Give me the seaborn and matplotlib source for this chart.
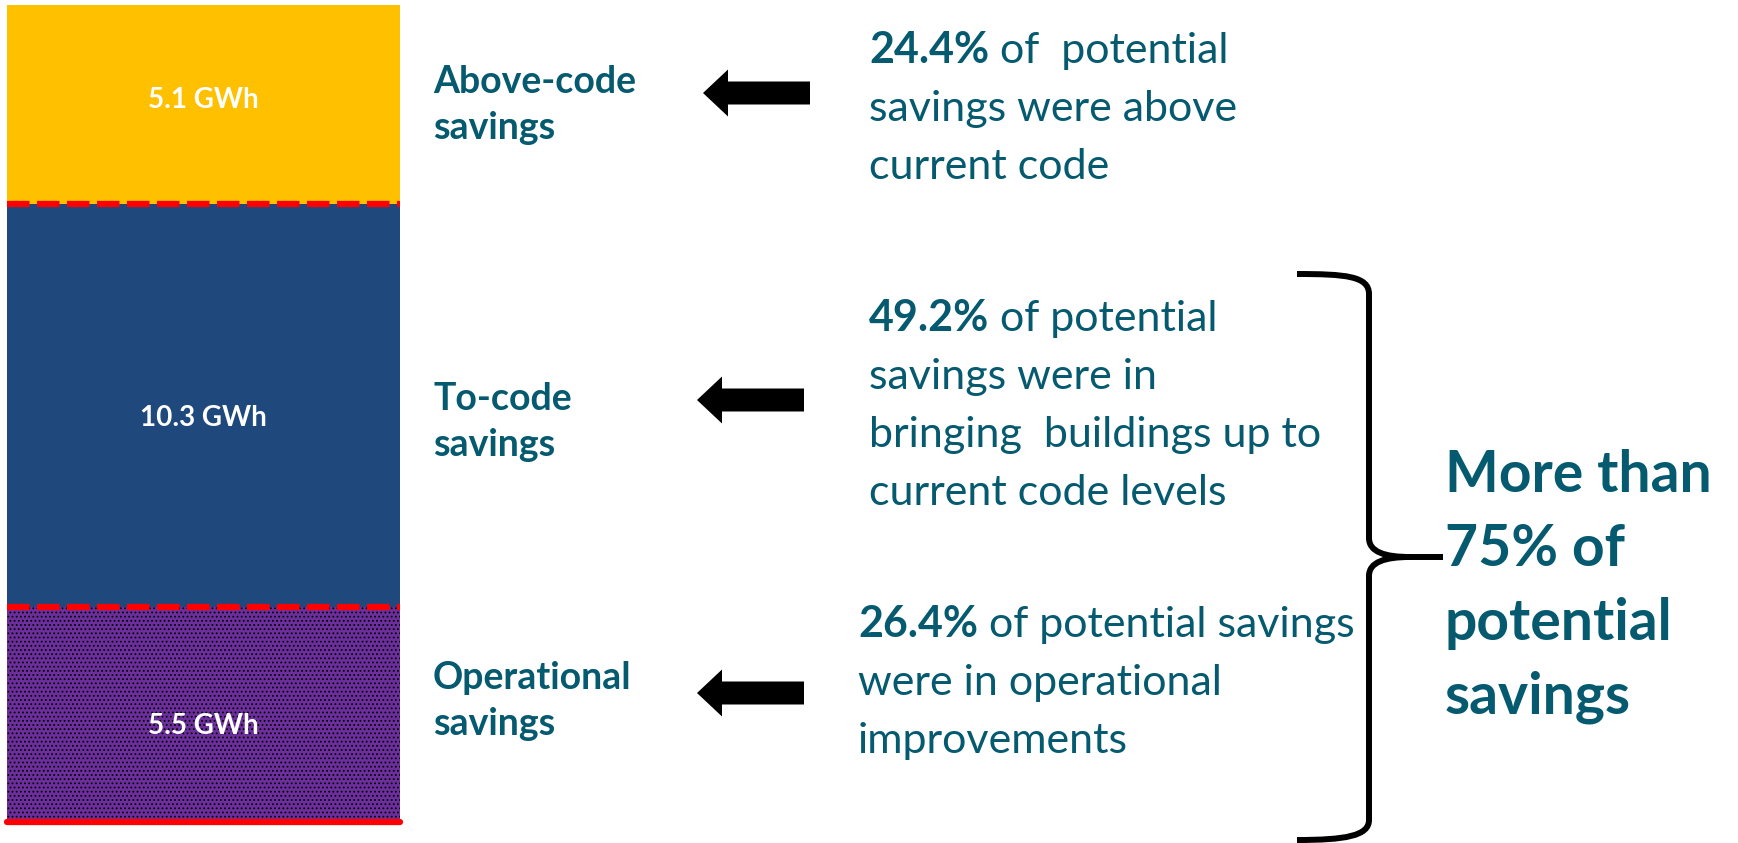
import numpy as np
import matplotlib
matplotlib.use("Agg")
import matplotlib.pyplot as plt
from matplotlib.patches import FancyArrow, PathPatch
from matplotlib.path import Path
import seaborn as sns

# savings by type in GWh, listed bottom to top of the stack
categories = ["Operational", "To-code", "Above-code"]
savings_gwh = [5.5, 10.3, 5.1]
bar_labels = ["5.5 GWh", "10.3 GWh", "5.1 GWh"]
side_labels = [["Operational", "savings"], ["To-code", "savings"], ["Above-code", "savings"]]
shares = ["26.4%", "49.2%", "24.4%"]
share_first_line = [" of potential savings", " of potential", " of  potential"]
share_rest = [["were in operational", "improvements"],
              ["savings were in", "bringing  buildings up to", "current code levels"],
              ["savings were above", "current code"]]
summary_lines = ["More than", "75% of", "potential", "savings"]

seg_colors = ["#6E2F9E", "#1F497D", "#FFC000"]
seg_hatch = ["....", None, None]
teal = "#055a6f"

sns.set_style("white")
plt.rcParams["font.family"] = ["Lato", "DejaVu Sans"]
plt.rcParams["hatch.linewidth"] = 0.8

W, H = 1738, 843
fig = plt.figure(figsize=(W / 100, H / 100), dpi=100)

# stacked bar
ax = fig.add_axes([7 / W, 1 - 822 / H, (400 - 7) / W, (822 - 5) / H])
bottoms = np.concatenate([[0], np.cumsum(savings_gwh)[:-1]])
for val, bot, col, hat in zip(savings_gwh, bottoms, seg_colors, seg_hatch):
    sns.barplot(x=["Savings"], y=[val], bottom=bot, color=col, saturation=1,
                width=1, linewidth=0, edgecolor="black", hatch=hat, ax=ax)
label_shift = [-8, -8.6, 3.6]  # points, labels sit a little off centre
for cont, lab, dy in zip(ax.containers, bar_labels, label_shift):
    anns = ax.bar_label(cont, labels=[lab], label_type="center", color="white",
                        fontsize=20, fontweight="bold")
    for a in anns:
        a.xyann = (0, dy)
ax.set_xlim(-0.5, 0.5)
ax.set_ylim(0, sum(savings_gwh))
ax.axis("off")
for b in bottoms[1:]:
    ax.axhline(b, color="red", lw=4.5, dashes=(3.6, 1.2), clip_on=False,
               dash_capstyle="butt")
ax.axhline(0, color="red", lw=4.5, clip_on=False)

# overlay in pixel coordinates for the annotations
ov = fig.add_axes([0, 0, 1, 1])
ov.set_xlim(0, W)
ov.set_ylim(H, 0)
ov.axis("off")

label_base = [689, 410, 93]
arrow_y = [693, 400, 93]
arrow_x = [(697, 804), (697, 804), (703, 810)]
block_x = [858, 869, 869]
block_base = [637, 331, 63]

for i in range(len(categories)):
    for k, line in enumerate(side_labels[i]):
        ov.text(433, label_base[i] + 46 * k, line, fontsize=27, fontweight="bold",
                color=teal, va="baseline", ha="left")
    x0, x1 = arrow_x[i]
    ov.add_patch(FancyArrow(x1, arrow_y[i], x0 - x1, 0, width=23, head_width=47,
                            head_length=25, length_includes_head=True,
                            color="black", lw=0))
    bold = ov.text(block_x[i], block_base[i], shares[i], fontsize=31,
                   fontweight="bold", color=teal, va="baseline", ha="left")
    ov.annotate(share_first_line[i], xy=(1, 0), xycoords=bold, va="bottom",
                ha="left", fontsize=31, color=teal)
    for k, line in enumerate(share_rest[i]):
        ov.text(block_x[i], block_base[i] + 58 * (k + 1), line, fontsize=31,
                color=teal, va="baseline", ha="left")

# curly brace grouping the two lower blocks
verts = [(1297, 274), (1345, 274), (1369, 276), (1369, 294),
         (1369, 538),
         (1369, 552), (1385, 557), (1410, 557),
         (1443, 557),
         (1410, 557), (1385, 557), (1369, 562), (1369, 576),
         (1369, 820),
         (1369, 836), (1345, 840), (1297, 840)]
codes = [Path.MOVETO, Path.CURVE4, Path.CURVE4, Path.CURVE4,
         Path.LINETO,
         Path.CURVE4, Path.CURVE4, Path.CURVE4,
         Path.LINETO,
         Path.MOVETO, Path.CURVE4, Path.CURVE4, Path.CURVE4,
         Path.LINETO,
         Path.CURVE4, Path.CURVE4, Path.CURVE4]
ov.add_patch(PathPatch(Path(verts, codes), fill=False, lw=4.3, color="black",
                       capstyle="butt", joinstyle="round"))

for k, line in enumerate(summary_lines):
    ov.text(1445, 492 + 74 * k, line, fontsize=41, fontweight="bold",
            color=teal, va="baseline", ha="left")

fig.savefig("out.png", dpi=100)
